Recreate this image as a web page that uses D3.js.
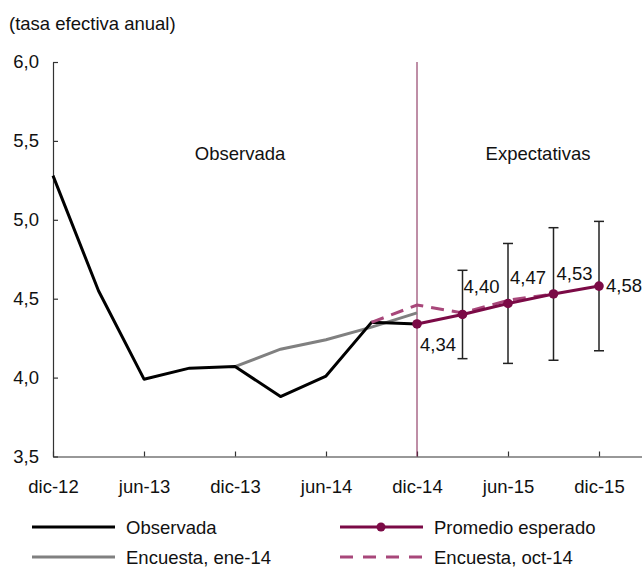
<!DOCTYPE html>
<html>
<head>
<meta charset="utf-8">
<script src="https://cdn.jsdelivr.net/npm/d3@7"></script>
<style>
  body { margin: 0; background: #fff; }
  svg text { font-family: "Liberation Sans", Arial, sans-serif; fill: #111; }
</style>
</head>
<body>
<svg id="chart" width="642" height="567"></svg>
<script>
// trimestres (el eje llega hasta mar-16)
const quarters = ["dic-12", "mar-13", "jun-13", "sep-13", "dic-13", "mar-14", "jun-14",
                  "sep-14", "dic-14", "mar-15", "jun-15", "sep-15", "dic-15", "mar-16"];
const tickLabels = ["dic-12", "jun-13", "dic-13", "jun-14", "dic-14", "jun-15", "dic-15"];
const yTicks = [3.5, 4.0, 4.5, 5.0, 5.5, 6.0];

const observadaQ = ["dic-12", "mar-13", "jun-13", "sep-13", "dic-13", "mar-14", "jun-14", "sep-14", "dic-14"];
const observada = [5.28, 4.55, 3.99, 4.06, 4.07, 3.88, 4.01, 4.35, 4.34];

const ene14Q = ["dic-13", "mar-14", "jun-14", "sep-14", "dic-14"];
const ene14 = [4.07, 4.18, 4.24, 4.32, 4.41];

const oct14Q = ["sep-14", "dic-14", "mar-15", "jun-15", "sep-15"];
const oct14 = [4.35, 4.46, 4.41, 4.49, 4.53];

const promedioQ = ["dic-14", "mar-15", "jun-15", "sep-15", "dic-15"];
const promedio = [4.34, 4.40, 4.47, 4.53, 4.58];

const rangoQ = ["mar-15", "jun-15", "sep-15", "dic-15"];
const rangoMin = [4.12, 4.09, 4.11, 4.17];
const rangoMax = [4.68, 4.85, 4.95, 4.99];

const BLACK = "#000";
const GREY = "#808080";
const MAROON = "#7b0a46";
const PINK = "#a8477a";
const FS = 18.5;

const svg = d3.select("#chart");
const fmt = v => d3.format(".2f")(v).replace(".", ",");

const x = d3.scalePoint().domain(quarters).range([53, 644.5]);
const y = d3.scaleLinear().domain([3.5, 6.0]).range([456.5, 62]);

// ejes
const yAxis = svg.append("g")
    .attr("transform", "translate(53,0)")
    .call(d3.axisLeft(y).tickValues(yTicks).tickSizeInner(-5).tickSizeOuter(0)
        .tickPadding(14).tickFormat(d => d3.format(".1f")(d).replace(".", ",")));
yAxis.selectAll("text").attr("font-size", FS).attr("fill", "#111");

const xAxis = svg.append("g")
    .attr("transform", "translate(0,456.5)")
    .call(d3.axisBottom(x).tickValues(tickLabels).tickSizeInner(-5).tickSizeOuter(0).tickPadding(23));
xAxis.selectAll("text").attr("font-size", FS).attr("fill", "#111");

[yAxis, xAxis].forEach(g => {
    g.select(".domain").attr("stroke", "#333").attr("stroke-width", 1.2);
    g.selectAll(".tick line").attr("stroke", "#333").attr("stroke-width", 1.2);
});

// separador observada / expectativas
svg.append("line")
    .attr("x1", x("dic-14")).attr("x2", x("dic-14"))
    .attr("y1", y(6.0)).attr("y2", y(3.5))
    .attr("stroke", "#7e1f4f").attr("stroke-width", 1);

svg.append("text").attr("x", 9).attr("y", 30).attr("font-size", FS).text("(tasa efectiva anual)");
svg.append("text").attr("x", 240).attr("y", 160).attr("font-size", FS)
    .attr("text-anchor", "middle").text("Observada");
svg.append("text").attr("x", 538).attr("y", 160).attr("font-size", FS)
    .attr("text-anchor", "middle").text("Expectativas");

const line = d3.line().x(d => x(d[0])).y(d => y(d[1]));
const zip = (a, b) => a.map((q, i) => [q, b[i]]);

// rangos (barras de error)
const bars = svg.append("g").attr("stroke", "#222").attr("stroke-width", 1.5);
rangoQ.forEach((q, i) => {
    const cx = x(q);
    bars.append("line").attr("x1", cx).attr("x2", cx).attr("y1", y(rangoMin[i])).attr("y2", y(rangoMax[i]));
    bars.append("line").attr("x1", cx - 5).attr("x2", cx + 5).attr("y1", y(rangoMin[i])).attr("y2", y(rangoMin[i]));
    bars.append("line").attr("x1", cx - 5).attr("x2", cx + 5).attr("y1", y(rangoMax[i])).attr("y2", y(rangoMax[i]));
});

svg.append("path").datum(zip(ene14Q, ene14)).attr("d", line)
    .attr("fill", "none").attr("stroke", GREY).attr("stroke-width", 3);
svg.append("path").datum(zip(observadaQ, observada)).attr("d", line)
    .attr("fill", "none").attr("stroke", BLACK).attr("stroke-width", 3).attr("stroke-linejoin", "round");
svg.append("path").datum(zip(oct14Q, oct14)).attr("d", line)
    .attr("fill", "none").attr("stroke", PINK).attr("stroke-width", 3).attr("stroke-dasharray", "13,8");
svg.append("path").datum(zip(promedioQ, promedio)).attr("d", line)
    .attr("fill", "none").attr("stroke", MAROON).attr("stroke-width", 3);
svg.append("g").selectAll("circle").data(zip(promedioQ, promedio)).join("circle")
    .attr("cx", d => x(d[0])).attr("cy", d => y(d[1])).attr("r", 4.8).attr("fill", MAROON);

// etiquetas de valores
const labelOffsets = [[3, 27], [1, -21], [2, -19], [3, -14], [7, 6]];
svg.append("g").selectAll("text").data(zip(promedioQ, promedio)).join("text")
    .attr("x", (d, i) => x(d[0]) + labelOffsets[i][0])
    .attr("y", (d, i) => y(d[1]) + labelOffsets[i][1])
    .attr("font-size", FS)
    .text(d => fmt(d[1]));

// leyenda
const legend = [
    { name: "Observada", color: BLACK, x: 32, y: 527, dash: null, dot: false },
    { name: "Encuesta, ene-14", color: GREY, x: 32, y: 557, dash: null, dot: false },
    { name: "Promedio esperado", color: MAROON, x: 340, y: 527, dash: null, dot: true },
    { name: "Encuesta, oct-14", color: PINK, x: 340, y: 557, dash: "13,10", dot: false }
];
const lg = svg.append("g").selectAll("g").data(legend).join("g")
    .attr("transform", d => `translate(${d.x},${d.y})`);
lg.append("line").attr("x1", 0).attr("x2", 83)
    .attr("stroke", d => d.color).attr("stroke-width", 3)
    .attr("stroke-dasharray", d => d.dash);
lg.filter(d => d.dot).append("circle").attr("cx", 41).attr("r", 4.5).attr("fill", MAROON);
lg.append("text").attr("x", 94).attr("y", 6.5).attr("font-size", FS).text(d => d.name);
</script>
</body>
</html>
